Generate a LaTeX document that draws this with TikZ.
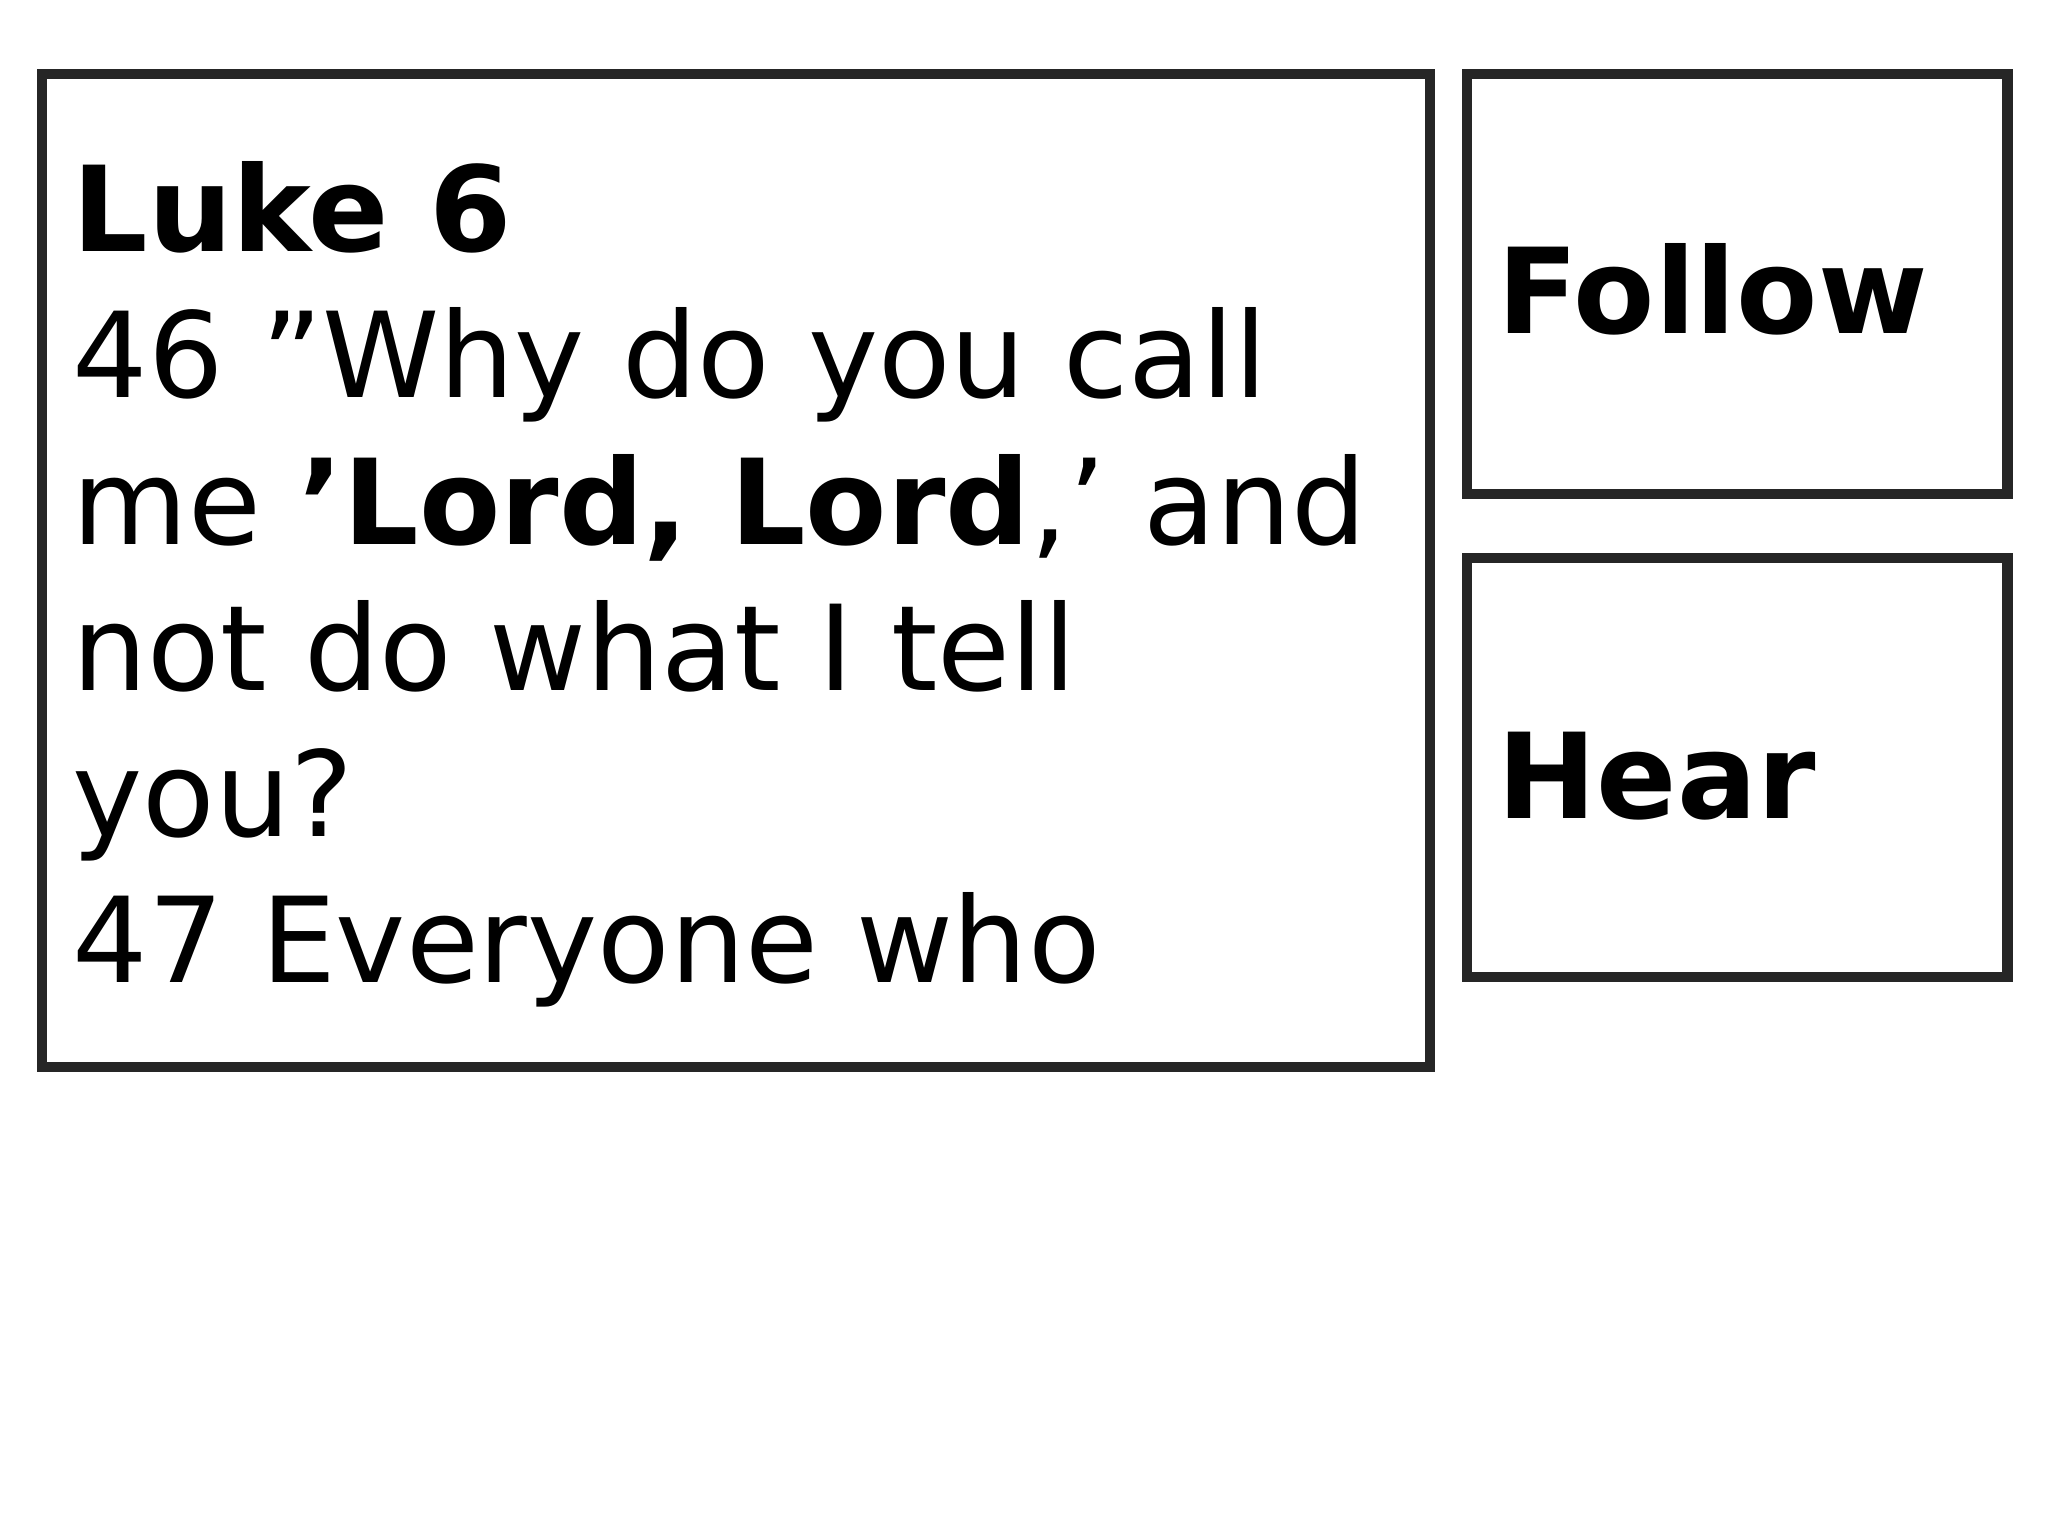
\documentclass[tikz,border=0pt]{standalone}
\usepackage{fontspec}
\setmainfont{DejaVu Sans}
\begin{document}
\begin{tikzpicture}[x=0.01cm,y=-0.01cm,
  box/.style={draw=black!85,line width=2.2pt},
  txt/.style={anchor=base west,inner sep=0pt,align=left,font=\fontsize{25.8}{31.8}\selectfont}]
\useasboundingbox (0,0) rectangle (1568,1176);
\draw[box] (32,57) rectangle (1095,817) node[pos=0] (main) {};
\draw[box] (1123,57) rectangle (1537,378) node[pos=0] (fol) {};
\draw[box] (1123,427) rectangle (1537,748) node[pos=0] (hear) {};
\node[txt] (t) at (55,752) {\textbf{Luke 6}\\46 "Why do you call\\me \textbf{'Lord, Lord},' and\\not do what I tell\\you?\\47 Everyone who};
\node[txt] (f) at (1146,255) {\textbf{Follow}};
\node[txt] (h) at (1146,627) {\textbf{Hear}};
\end{tikzpicture}
\end{document}
